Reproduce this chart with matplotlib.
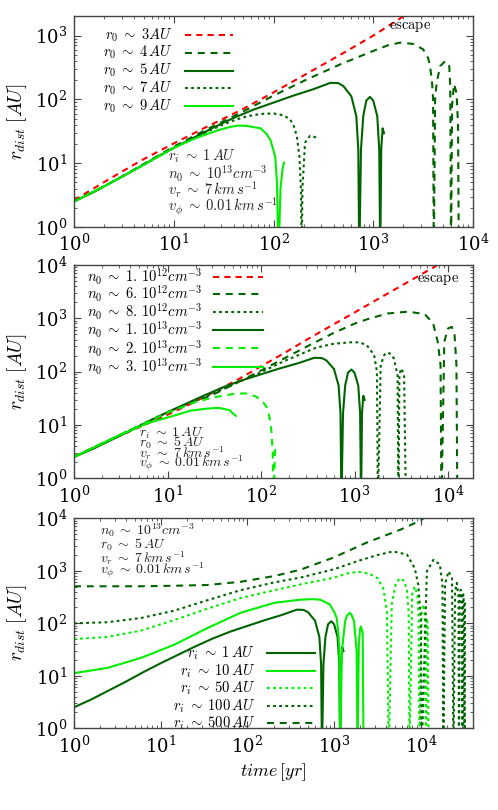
import numpy as np
import matplotlib
matplotlib.use('Agg')
import matplotlib.pyplot as plt
from matplotlib.ticker import LogLocator, NullFormatter, LogFormatterMathtext

plt.rcParams['mathtext.fontset'] = 'cm'
plt.rcParams['font.family'] = 'serif'
plt.rcParams['font.serif'] = ['DejaVu Serif']
plt.rcParams['lines.scale_dashes'] = False

RED = '#ff0000'
DARK = '#006400'
LIGHT = '#00ee00'

# ---------------- data (log10 time [yr], log10 r [AU]) ----------------
# reference trajectory: ri~1 AU, r0~5 AU, n0~1e13 (appears in all panels)
base_lt = [0, 0.2, 0.4, 0.6, 0.8, 1.0, 1.2, 1.4, 1.6, 1.8, 2.0, 2.2, 2.4, 2.57, 2.65,
           2.70, 2.78, 2.83, 2.85, 2.86, 2.877, 2.90, 2.93, 2.967, 3.0, 3.04, 3.06,
           3.07, 3.08, 3.094, 3.108]
base_lr = [0.40, 0.55, 0.72, 0.89, 1.07, 1.24, 1.40, 1.56, 1.71, 1.84, 1.95, 2.06, 2.16,
           2.26, 2.255, 2.21, 2.05, 1.74, 1.22, -0.5, 1.22, 1.74, 1.98, 2.04, 1.98, 1.74,
           1.22, -0.5, 1.22, 1.547, 1.47]

# panel 1: varying r0
p1_r3_lt = [0, 0.33, 0.67, 1.0, 1.33, 1.67, 2.0, 2.33, 2.67, 3.0, 3.33]
p1_r3_lr = [0.42, 0.73, 1.04, 1.31, 1.57, 1.83, 2.11, 2.40, 2.70, 3.00, 3.33]

p1_r4_lt = [0, 0.33, 0.67, 1.0, 1.33, 1.67, 2.0, 2.33, 2.67, 3.0, 3.15, 3.27, 3.40, 3.50,
            3.55, 3.57, 3.59, 3.60, 3.607, 3.62, 3.636, 3.67, 3.72, 3.745, 3.762, 3.772,
            3.78, 3.79, 3.81, 3.835, 3.85, 3.858]
p1_r4_lr = [0.40, 0.66, 0.96, 1.26, 1.53, 1.79, 2.06, 2.31, 2.55, 2.76, 2.85, 2.89, 2.87,
            2.785, 2.65, 2.52, 2.25, 2.0, -0.5, 2.0, 2.26, 2.52, 2.60, 2.57, 2.52, 2.2,
            -0.5, 1.9, 2.24, 2.1, 1.6, -0.5]

p1_r7_lt = [0, 0.33, 0.67, 1.0, 1.3, 1.4, 1.5, 1.6, 1.7, 1.8, 1.9, 2.0, 2.1, 2.165, 2.2,
            2.233, 2.26, 2.275, 2.283, 2.29, 2.316, 2.366, 2.40, 2.426]
p1_r7_lr = [0.40, 0.66, 0.95, 1.24, 1.47, 1.54, 1.61, 1.67, 1.72, 1.755, 1.775, 1.78, 1.75,
            1.69, 1.6, 1.43, 1.1, 0.6, -0.5, 0.6, 1.32, 1.43, 1.42, 1.40]

p1_r9_lt = [0, 0.33, 0.67, 1.0, 1.2, 1.337, 1.45, 1.57, 1.64, 1.73, 1.87, 1.93, 1.97, 2.0,
            2.017, 2.035, 2.05, 2.07, 2.09, 2.105]
p1_r9_lr = [0.40, 0.66, 0.95, 1.24, 1.38, 1.458, 1.52, 1.57, 1.59, 1.585, 1.547, 1.46, 1.36,
            1.2, 1.10, 0.7, -0.5, 0.6, 0.9, 1.008]

# panel 2: varying n0
p2_n1e12_lt = [0, 0.2, 0.45, 0.7, 1.0, 1.25, 1.5, 1.75, 2.0, 2.25, 2.5, 2.75, 3.0, 3.25,
               3.5, 3.75, 3.89]
p2_n1e12_lr = [0.41, 0.57, 0.77, 0.96, 1.19, 1.40, 1.62, 1.85, 2.10, 2.35, 2.61, 2.86, 3.11,
               3.36, 3.61, 3.86, 4.0]

p2_n6e12_lt = [0, 0.5, 1.0, 1.5, 2.0, 2.5, 2.77, 3.0, 3.13, 3.35, 3.57, 3.75, 3.84, 3.89,
               3.92, 3.93, 3.96, 4.0, 4.04, 4.07, 4.09, 4.10]
p2_n6e12_lr = [0.40, 0.82, 1.23, 1.58, 2.02, 2.48, 2.72, 2.90, 2.98, 3.09, 3.125, 3.08, 2.91,
               2.56, 2.13, -0.5, 2.56, 2.81, 2.84, 2.69, 2.13, -0.5]

p2_n8e12_lt = [0, 0.5, 1.0, 1.5, 2.0, 2.25, 2.59, 2.77, 2.95, 3.05, 3.13, 3.21, 3.24, 3.25,
               3.28, 3.32, 3.35, 3.39, 3.42, 3.46, 3.47, 3.48, 3.50, 3.53, 3.55]
p2_n8e12_lr = [0.40, 0.82, 1.24, 1.60, 1.99, 2.20, 2.45, 2.52, 2.55, 2.55, 2.50, 2.31, 2.0,
               -0.5, 2.13, 2.32, 2.36, 2.33, 2.25, 1.94, -0.5, 1.95, 2.06, 1.94, -0.5]

p2_n2e13_lt = [0, 0.5, 1.0, 1.3, 1.5, 1.73, 1.85, 1.95, 2.02, 2.06, 2.09, 2.11, 2.125,
               2.135, 2.15]
p2_n2e13_lr = [0.40, 0.82, 1.23, 1.43, 1.52, 1.59, 1.59, 1.53, 1.43, 1.34, 1.15, 0.91, 0.5,
               -0.5, 0.6]

p2_n3e13_lt = [0, 0.5, 0.8, 1.08, 1.25, 1.44, 1.55, 1.66, 1.73]
p2_n3e13_lr = [0.40, 0.82, 1.04, 1.18, 1.27, 1.31, 1.32, 1.28, 1.17]

# panel 3: varying ri
p3_ri10_lt = [0, 0.385, 0.77, 1.154, 1.54, 1.92, 2.31, 2.61, 2.75, 2.84, 2.95, 3.0, 3.03,
              3.05, 3.06, 3.07, 3.09, 3.127, 3.15, 3.18, 3.205, 3.23, 3.26, 3.27, 3.285,
              3.30, 3.31, 3.33, 3.34]
p3_ri10_lr = [1.05, 1.15, 1.34, 1.59, 1.91, 2.20, 2.39, 2.45, 2.46, 2.45, 2.36, 2.22, 2.10,
              1.8, 1.47, -0.5, 1.47, 2.04, 2.15, 2.20, 2.15, 2.04, 1.47, -0.5, 1.59, 1.9,
              1.94, 1.81, -0.5]

p3_ri50_lt = [0, 0.385, 0.77, 1.154, 1.54, 1.92, 2.31, 2.61, 3.0, 3.15, 3.28, 3.4, 3.5,
              3.57, 3.61, 3.63, 3.665, 3.71, 3.76, 3.81, 3.84, 3.86, 3.87, 3.90, 3.93,
              3.96, 3.975, 3.985, 4.01, 4.03, 4.05, 4.06, 4.07, 4.08, 4.09]
p3_ri50_lr = [1.70, 1.74, 1.86, 2.06, 2.28, 2.48, 2.63, 2.74, 2.87, 2.95, 2.98, 2.95, 2.86,
              2.65, 2.2, -0.5, 2.36, 2.75, 2.86, 2.80, 2.62, 2.2, -0.5, 2.55, 2.70, 2.55,
              2.1, -0.5, 2.2, 2.36, 2.1, -0.5, 2.10, 1.9, -0.5]

p3_ri100_lt = [0, 0.385, 0.77, 1.154, 1.54, 1.92, 2.31, 2.61, 3.0, 3.3, 3.5, 3.68, 3.84,
               3.93, 3.97, 4.0, 4.01, 4.07, 4.146, 4.22, 4.25, 4.26, 4.28, 4.32, 4.36,
               4.377, 4.395, 4.415, 4.435, 4.44, 4.45, 4.46, 4.475, 4.48, 4.485, 4.49,
               4.50, 4.505, 4.51]
p3_ri100_lr = [2.0, 2.02, 2.10, 2.24, 2.44, 2.63, 2.78, 2.87, 3.03, 3.20, 3.30, 3.37, 3.31,
               3.05, 2.74, 2.10, -0.5, 2.99, 3.21, 3.12, 2.74, -0.5, 2.75, 2.99, 2.86,
               -0.5, 2.6, 2.77, 2.5, -0.5, 2.45, 2.64, 2.4, -0.5, 2.3, 2.55, 2.3, -0.5, 2.4]

p3_ri500_lt = [0, 0.385, 0.77, 1.154, 1.54, 1.92, 2.31, 2.61, 2.99, 3.38, 3.76, 4.0, 4.03]
p3_ri500_lr = [2.705, 2.705, 2.705, 2.715, 2.73, 2.79, 2.90, 3.02, 3.25, 3.54, 3.78, 3.96,
               4.0]

# labels
S = r'\;\sim\;'
p1_labels = [r'$r_0' + S + r'3AU$', r'$r_0' + S + r'4\,AU$', r'$r_0' + S + r'5\,AU$',
             r'$r_0' + S + r'7\,AU$', r'$r_0' + S + r'9\,AU$']
p2_labels = [r'$n_0' + S + r'1.\,10^{12}cm^{-3}$', r'$n_0' + S + r'6.\,10^{12}cm^{-3}$',
             r'$n_0' + S + r'8.\,10^{12}cm^{-3}$', r'$n_0' + S + r'1.\,10^{13}cm^{-3}$',
             r'$n_0' + S + r'2.\,10^{13}cm^{-3}$', r'$n_0' + S + r'3.\,10^{13}cm^{-3}$']
p3_labels = [r'$r_i' + S + r'1\,AU$', r'$r_i' + S + r'10\,AU$', r'$r_i' + S + r'50\,AU$',
             r'$r_i' + S + r'100\,AU$', r'$r_i' + S + r'500\,AU$']
p1_notes = [r'$r_i' + S + r'1\,AU$', r'$n_0' + S + r'10^{13}cm^{-3}$',
            r'$v_r' + S + r'7\,km\,s^{-1}$', r'$v_\phi' + S + r'0.01\,km\,s^{-1}$']
p2_notes = [r'$r_i' + S + r'1\,AU$', r'$r_0' + S + r'5\,AU$',
            r'$v_r' + S + r'7\,km\,s^{-1}$', r'$v_\phi' + S + r'0.01\,km\,s^{-1}$']
p3_notes = [r'$n_0' + S + r'10^{13}cm^{-3}$', r'$r_0' + S + r'5\,AU$',
            r'$v_r' + S + r'7\,km\,s^{-1}$', r'$v_\phi' + S + r'0.01\,km\,s^{-1}$']

# ---------------- styles ----------------
S_RED = dict(color=RED, dashes=(4.5, 3.6))
S_DDASH = dict(color=DARK, dashes=(5.0, 4.2))
S_DSOL = dict(color=DARK, linestyle='-')
S_DDOT = dict(color=DARK, dashes=(2.0, 2.4))
S_LSOL = dict(color=LIGHT, linestyle='-')
S_LDASH = dict(color=LIGHT, dashes=(5.0, 4.2))
S_LDOT = dict(color=LIGHT, dashes=(2.0, 2.4))
LW = 1.5

W, H = 498.0, 810.0
fig = plt.figure(figsize=(W / 100, H / 100), dpi=100)


def make_axes(top, bottom, xmax, ymax):
    ax = fig.add_axes([74 / W, 1 - bottom / H, (473 - 74) / W, (bottom - top) / H])
    ax.set_xscale('log')
    ax.set_yscale('log')
    ax.set_xlim(1, xmax)
    ax.set_ylim(1, ymax)
    for a in (ax.xaxis, ax.yaxis):
        a.set_major_locator(LogLocator(base=10, numticks=10))
        a.set_minor_locator(LogLocator(base=10, subs=np.arange(2, 10), numticks=20))
        a.set_minor_formatter(NullFormatter())
        a.set_major_formatter(LogFormatterMathtext())
    ax.tick_params(which='both', direction='in', top=True, right=True,
                   colors='#444444', labelcolor='black', labelsize=13)
    ax.tick_params(which='major', length=5, width=0.8, pad=5)
    ax.tick_params(which='minor', length=2.5, width=0.6)
    for s in ax.spines.values():
        s.set_color('#444444')
        s.set_linewidth(1.0)
    return ax


def curve(ax, lt, lr, style):
    ax.plot(10 ** np.asarray(lt, float), 10 ** np.asarray(lr, float), lw=LW, **style)


def key(ax, labels, styles, ys, xr, x0, x1, fs):
    for lab, st, y in zip(labels, styles, ys):
        ax.text(xr, y, lab, transform=ax.transAxes, ha='right', va='center', fontsize=fs)
        ax.plot([x0, x1], [y, y], transform=ax.transAxes, lw=LW, clip_on=False, **st)


def notes(ax, lines, x, ys, fs):
    for t, y in zip(lines, ys):
        ax.text(x, y, t, transform=ax.transAxes, ha='left', va='center', fontsize=fs,
                color='#222222')


# ---------------- panel 1 ----------------
ax1 = make_axes(16, 227, 1e4, 2030)
curve(ax1, p1_r3_lt, p1_r3_lr, S_RED)
curve(ax1, p1_r4_lt, p1_r4_lr, S_DDASH)
curve(ax1, base_lt, base_lr, S_DSOL)
curve(ax1, p1_r7_lt, p1_r7_lr, S_DDOT)
curve(ax1, p1_r9_lt, p1_r9_lr, S_LSOL)
key(ax1, p1_labels, [S_RED, S_DDASH, S_DSOL, S_DDOT, S_LSOL],
    [0.910, 0.826, 0.741, 0.657, 0.573], 0.248, 0.278, 0.398, 10.5)
notes(ax1, p1_notes, 0.236, [0.333, 0.251, 0.175, 0.096], 10.5)
ax1.text(0.79, 0.948, r'$\mathrm{escape}$', transform=ax1.transAxes, ha='left',
         va='center', fontsize=10.5)

# ---------------- panel 2 ----------------
ax2 = make_axes(265, 478.3, 1.85e4, 1e4)
curve(ax2, p2_n1e12_lt, p2_n1e12_lr, S_RED)
curve(ax2, p2_n6e12_lt, p2_n6e12_lr, S_DDASH)
curve(ax2, p2_n8e12_lt, p2_n8e12_lr, S_DDOT)
curve(ax2, base_lt, base_lr, S_DSOL)
curve(ax2, p2_n2e13_lt, p2_n2e13_lr, S_LDASH)
curve(ax2, p2_n3e13_lt, p2_n3e13_lr, S_LSOL)
key(ax2, p2_labels, [S_RED, S_DDASH, S_DDOT, S_DSOL, S_LDASH, S_LSOL],
    [0.945, 0.863, 0.780, 0.695, 0.609, 0.523], 0.323, 0.348, 0.474, 10.5)
notes(ax2, p2_notes, 0.163, [0.212, 0.167, 0.117, 0.070], 10)
ax2.text(0.86, 0.930, r'$\mathrm{escape}$', transform=ax2.transAxes, ha='left',
         va='center', fontsize=10.5)

# ---------------- panel 3 ----------------
ax3 = make_axes(518.3, 728.3, 4e4, 1e4)
curve(ax3, base_lt, base_lr, S_DSOL)
curve(ax3, p3_ri10_lt, p3_ri10_lr, S_LSOL)
curve(ax3, p3_ri50_lt, p3_ri50_lr, S_LDOT)
curve(ax3, p3_ri100_lt, p3_ri100_lr, S_DDOT)
curve(ax3, p3_ri500_lt, p3_ri500_lr, S_DDASH)
key(ax3, p3_labels, [S_DSOL, S_LSOL, S_LDOT, S_DDOT, S_DDASH],
    [0.357, 0.273, 0.190, 0.106, 0.024], 0.454, 0.484, 0.604, 10.5)
notes(ax3, p3_notes, 0.065, [0.944, 0.876, 0.812, 0.754], 10)

# axis titles
for top, bottom in [(16, 227), (265, 478.3), (518.3, 728.3)]:
    fig.text(17 / W, 1 - (top + bottom) / 2 / H, r'$r_{dist}\;[AU]$', rotation=90,
             ha='center', va='center', fontsize=14)
fig.text(273 / W, 1 - 771.7 / H, r'$time\,[yr]$', ha='center', va='center', fontsize=13)

fig.savefig('out.png', dpi=100)
